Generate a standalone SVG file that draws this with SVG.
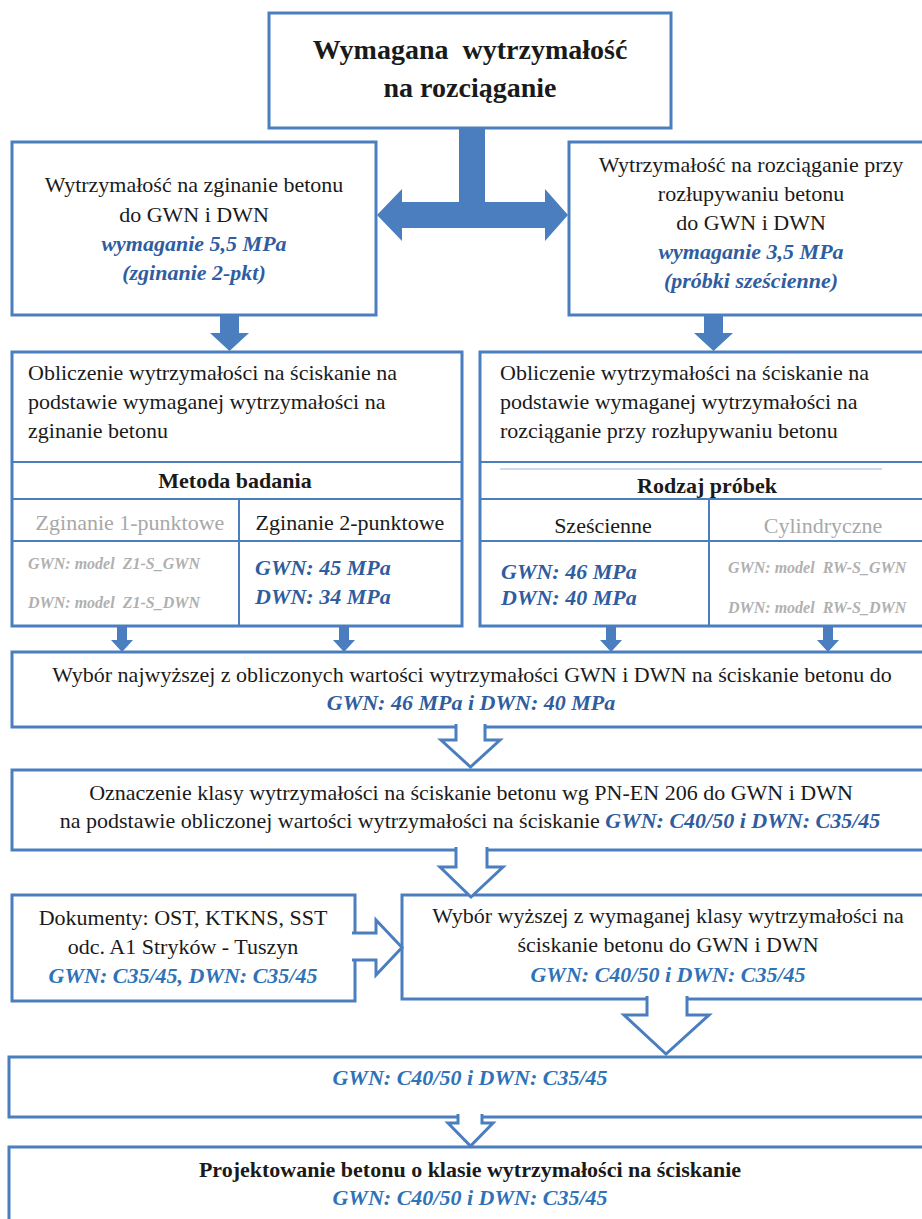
<svg xmlns="http://www.w3.org/2000/svg" width="922" height="1219" viewBox="0 0 922 1219">
<style>
.box{fill:#fff;stroke:#4A7EBF;stroke-width:3}
.dv{stroke:#4A7EBF;stroke-width:2;fill:none}
.thin{stroke:#9DB7DE;stroke-width:1;fill:none}
.arr{fill:#4A7EBF}
.hol{fill:#fff;stroke:#4A7EBF;stroke-width:3;stroke-linejoin:miter}
text{font-family:"Liberation Serif","Times New Roman",serif;font-size:22px;fill:#1a1a1a}
.c{text-anchor:middle}
.b{font-weight:bold}
.ti{font-size:28px;font-weight:bold;white-space:pre}
.bl{font-weight:bold;font-style:italic;fill:#2F5D9F}
.bl2{font-weight:bold;font-style:italic;fill:#2E72B8}
.g{fill:#A8A8A8}
.gs{font-size:16px;font-weight:bold;font-style:italic;fill:#B0B0B0;white-space:pre}
</style>

<g id="connectors">
  <path class="arr" d="M459,126 H485 V202 H545 V189 L568,215 L545,241 V228 H402 V241 L377,215 L402,189 V202 H459 Z"/>
  <path class="arr" d="M220,315 H239 V333 H249 L229.5,351 L210,333 H220 Z"/>
  <path class="arr" d="M704,315 H723 V333 H733 L713.5,351 L694,333 H704 Z"/>
  <path class="arr" d="M117,626 H127 V640 H133 L122,652 L111,640 H117 Z"/>
  <path class="arr" d="M339,626 H349 V640 H355 L344,652 L333,640 H339 Z"/>
  <path class="arr" d="M606,626 H616 V640 H622 L611,652 L600,640 H606 Z"/>
  <path class="arr" d="M823,626 H833 V640 H839 L828,652 L817,640 H823 Z"/>
</g>

<g id="n-title">
  <rect class="box" x="269" y="13" width="402" height="115"/>
  <text class="c ti" x="470" y="59">Wymagana  wytrzymałość</text>
  <text class="c ti" x="470" y="97">na rozciąganie</text>
</g>

<g id="n-zginanie">
  <rect class="box" x="12" y="142" width="364" height="173"/>
  <text class="c" x="194" y="192">Wytrzymałość na zginanie betonu</text>
  <text class="c" x="194" y="222">do GWN i DWN</text>
  <text class="c bl" x="194" y="251">wymaganie 5,5 MPa</text>
  <text class="c bl" x="194" y="280">(zginanie 2-pkt)</text>
</g>

<g id="n-rozlupywanie">
  <rect class="box" x="569" y="142" width="380" height="173"/>
  <text class="c" x="751" y="172">Wytrzymałość na rozciąganie przy</text>
  <text class="c" x="751" y="201">rozłupywaniu betonu</text>
  <text class="c" x="751" y="230">do GWN i DWN</text>
  <text class="c bl" x="751" y="259">wymaganie 3,5 MPa</text>
  <text class="c bl" x="751" y="288">(próbki sześcienne)</text>
</g>

<g id="n-obliczenie-zginanie">
  <rect class="box" x="12" y="352" width="450" height="274"/>
  <path class="dv" d="M12,462 H462 M12,499 H462 M12,541 H462 M239,499 V626"/>
  <text x="28" y="380">Obliczenie wytrzymałości na ściskanie na</text>
  <text x="28" y="409">podstawie wymaganej wytrzymałości na</text>
  <text x="28" y="438">zginanie betonu</text>
  <text class="c b" x="235" y="488">Metoda badania</text>
  <text class="c g" x="130" y="530">Zginanie 1-punktowe</text>
  <text class="c" x="350" y="530">Zginanie 2-punktowe</text>
  <text class="gs" x="28" y="569">GWN: model  Z1-S_GWN</text>
  <text class="gs" x="28" y="608">DWN: model  Z1-S_DWN</text>
  <text class="bl" x="255" y="575">GWN: 45 MPa</text>
  <text class="bl" x="255" y="604">DWN: 34 MPa</text>
</g>

<g id="n-obliczenie-rozlupywanie">
  <rect class="box" x="480" y="352" width="470" height="274"/>
  <path class="dv" d="M480,462 H950 M480,499 H950 M480,541 H950 M709,499 V626"/>
  <path class="thin" d="M500,469 H882"/>
  <text x="500" y="380">Obliczenie wytrzymałości na ściskanie na</text>
  <text x="500" y="409">podstawie wymaganej wytrzymałości na</text>
  <text x="500" y="438">rozciąganie przy rozłupywaniu betonu</text>
  <text class="c b" x="707" y="493">Rodzaj próbek</text>
  <text class="c" x="603" y="533">Sześcienne</text>
  <text class="c g" x="823" y="533">Cylindryczne</text>
  <text class="bl" x="501" y="579">GWN: 46 MPa</text>
  <text class="bl" x="501" y="605">DWN: 40 MPa</text>
  <text class="gs" x="728" y="573">GWN: model  RW-S_GWN</text>
  <text class="gs" x="728" y="613">DWN: model  RW-S_DWN</text>
</g>

<g id="n-wybor-najwyzszej">
  <rect class="box" x="12" y="652" width="940" height="75"/>
  <text class="c" x="472" y="682">Wybór najwyższej z obliczonych wartości wytrzymałości GWN i DWN na ściskanie betonu do</text>
  <text class="c bl" x="471" y="710">GWN: 46 MPa i DWN: 40 MPa</text>
</g>

<g id="n-oznaczenie">
  <rect class="box" x="12" y="770" width="940" height="80"/>
  <text class="c" x="471" y="800">Oznaczenie klasy wytrzymałości na ściskanie betonu wg PN-EN 206 do GWN i DWN</text>
  <text class="c" x="470" y="828">na podstawie obliczonej wartości wytrzymałości na ściskanie <tspan class="bl">GWN: C40/50 i DWN: C35/45</tspan></text>
</g>

<g id="n-dokumenty">
  <rect class="box" x="12" y="895" width="343" height="106"/>
  <text class="c" x="183" y="925">Dokumenty: OST, KTKNS, SST</text>
  <text class="c" x="183" y="954">odc. A1 Stryków - Tuszyn</text>
  <text class="c bl2" x="183" y="983">GWN: C35/45, DWN: C35/45</text>
</g>

<g id="n-wybor-wyzszej">
  <rect class="box" x="402" y="895" width="550" height="104"/>
  <text class="c" x="668" y="923">Wybór wyższej z wymaganej klasy wytrzymałości na</text>
  <text class="c" x="668" y="952">ściskanie betonu do GWN i DWN</text>
  <text class="c bl2" x="668" y="982">GWN: C40/50 i DWN: C35/45</text>
</g>

<g id="n-wynik">
  <rect class="box" x="9" y="1057" width="943" height="60"/>
  <text class="c bl2" x="470" y="1085">GWN: C40/50 i DWN: C35/45</text>
</g>

<g id="n-projektowanie">
  <rect class="box" x="9" y="1147" width="943" height="90"/>
  <text class="c b" x="470" y="1177">Projektowanie betonu o klasie wytrzymałości na ściskanie</text>
  <text class="c bl2" x="470" y="1205">GWN: C40/50 i DWN: C35/45</text>
</g>

<g id="hollow-arrows">
  <path class="hol" d="M456,724 V740 H441 L470.5,767 L500,740 H485 V724"/>
  <path class="hol" d="M456,847 V867 H440 L471,897 L503,867 H487 V847"/>
  <path class="hol" d="M352,933 H376 V920 L402,947.5 L376,975 V960 H352"/>
  <path class="hol" d="M647,996 V1015 H624 L666,1054 L709,1015 H687 V996"/>
  <path class="hol" d="M458,1114 V1123 H448 L470.5,1146 L493,1123 H482 V1114"/>
</g>
</svg>
